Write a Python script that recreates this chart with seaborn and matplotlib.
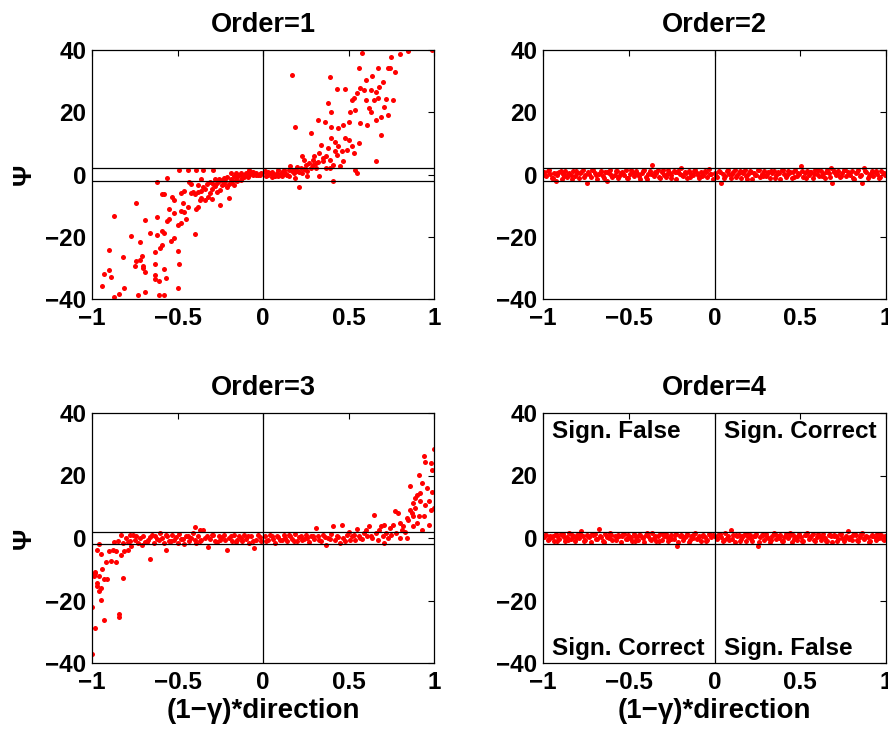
import matplotlib
matplotlib.use("Agg")
import matplotlib.pyplot as plt
import numpy as np
import pandas as pd
import seaborn as sns

# ---------------- data ----------------
titles = ["Order=1", "Order=2", "Order=3", "Order=4"]
xtick_vals = [-1, -0.5, 0, 0.5, 1]
xtick_labels = ["\u22121", "\u22120.5", "0", "0.5", "1"]
ytick_vals = [-40, -20, 0, 20, 40]
ytick_labels = ["\u221240", "\u221220", "0", "20", "40"]
band_lines = [-2, 2]

# Order=1
x1_neg = [-0.94,-0.93,-0.90,-0.90,-0.89,-0.87,-0.87,-0.84,-0.82,-0.81,
 -0.77,-0.75,-0.74,-0.74,-0.73,-0.72,-0.72,-0.71,-0.70,-0.70,
 -0.69,-0.69,-0.69,-0.66,-0.63,-0.63,-0.63,-0.63,-0.62,-0.62,
 -0.62,-0.61,-0.61,-0.60,-0.59,-0.59,-0.59,-0.58,-0.58,-0.58,
 -0.58,-0.57,-0.56,-0.56,-0.55,-0.55,-0.54,-0.53,-0.52,-0.52,
 -0.52,-0.50,-0.50,-0.50,-0.49,-0.49,-0.48,-0.48,-0.48,-0.47,
 -0.46,-0.46,-0.45,-0.44,-0.44,-0.43,-0.42,-0.41,-0.40,-0.40,
 -0.39,-0.39,-0.38,-0.38,-0.38,-0.37,-0.36,-0.36,-0.35,-0.35,
 -0.34,-0.33,-0.32,-0.31,-0.30,-0.29,-0.29,-0.28,-0.27,-0.26,
 -0.25,-0.25,-0.24,-0.23,-0.22,-0.21,-0.20,-0.20,-0.19,-0.18,
 -0.17,-0.17,-0.16,-0.15,-0.14,-0.13,-0.12,-0.11,-0.10,-0.10,
 -0.09,-0.08,-0.07,-0.06,-0.05,-0.03,-0.02,-0.01,
 -0.30,-0.27,-0.24,-0.21,-0.18,-0.15,-0.13,-0.11,-0.08,-0.06,-0.04,-0.34,-0.36,-0.42,-0.31,
 -0.28,-0.26,-0.23,-0.19,-0.16,-0.12,-0.09,-0.07,-0.04,-0.02]
y1_neg = [-35.7,-32.0,-24.3,-30.8,-32.8,-13.2,-39.5,-38.5,-26.5,-36.4,
 -19.7,-29.3,-9.3,-27.7,-38.7,-27.6,-21.8,-26.3,-29.5,-30.2,
 -31.4,-14.5,-37.6,-18.9,-24.9,-28.6,-32.3,-33.7,-13.5,-2.4,
 -19.3,-34.1,-38.7,-23.5,-22.6,-6.2,-18.2,-6.3,-18.7,-38.7,
 -30.4,-33.2,-15.1,-1.0,-11.0,-14.2,-21.4,-7.2,-12.5,-8.1,
 -20.5,-36.6,-24.7,-16.3,-28.9,1.4,-5.8,-15.7,-11.6,-9.0,
 -5.3,-12.1,-14.3,-10.6,1.4,-2.4,-5.9,-5.7,-19.1,-6.3,
 -11.1,1.5,-10.5,-5.5,-3.3,-8.3,-1.4,-7.5,1.4,-3.9,
 -8.1,-3.1,-7.1,-2.4,-8.0,1.4,-3.0,-1.3,-2.8,-2.2,
 -9.9,-5.1,-3.5,-1.2,-2.2,-0.7,-7.7,-3.1,0.4,-1.8,
 -3.3,-0.6,0.6,-2.2,-0.1,0.4,-1.2,-0.4,0.4,0.1,
 0.6,1.3,0.4,-0.1,0.3,-0.1,0.2,0.4,
 -4.5,-5.5,-1.8,-4.0,-2.6,-0.8,-1.9,-0.9,-0.3,0.9,0.0,-4.6,-5.2,-3.0,-6.0,
 -3.8,-1.6,-2.9,-1.4,-1.9,0.0,-0.7,0.9,0.6,-0.2]
x1_pos = [0.01,0.02,0.03,0.04,0.05,0.06,0.07,0.08,0.09,0.10,
 0.11,0.12,0.13,0.14,0.15,0.16,0.17,0.18,0.19,0.19,
 0.20,0.21,0.22,0.23,0.23,0.24,0.25,0.26,0.27,0.28,
 0.28,0.29,0.30,0.31,0.31,0.32,0.33,0.33,0.34,0.35,
 0.35,0.36,0.37,0.37,0.38,0.38,0.39,0.39,0.39,0.40,
 0.40,0.40,0.41,0.41,0.42,0.42,0.43,0.43,0.44,0.44,
 0.45,0.46,0.47,0.47,0.48,0.48,0.49,0.50,0.50,0.51,
 0.52,0.52,0.53,0.53,0.54,0.54,0.55,0.55,0.56,0.56,
 0.57,0.57,0.58,0.59,0.60,0.60,0.61,0.62,0.63,0.63,
 0.64,0.65,0.66,0.66,0.66,0.67,0.67,0.68,0.69,0.69,
 0.70,0.71,0.72,0.73,0.73,0.74,0.75,0.76,0.77,0.80,
 0.85,0.99,
 0.02,0.05,0.09,0.12,0.15,0.18,0.21,0.24,
 0.03,0.06,0.08,0.11,0.14,0.17,0.20,0.26,0.29,0.32]
y1_pos = [1.0,0.4,-0.3,0.6,-0.9,0.2,-0.6,0.6,1.3,-0.1,
 -0.6,1.5,0.4,-0.2,1.3,2.6,32.1,0.4,15.4,-1.0,
 1.0,-3.9,2.0,5.8,0.4,4.7,2.9,-0.6,3.6,2.0,
 13.3,4.7,5.8,2.0,3.6,17.5,6.8,-0.6,9.5,5.2,
 4.2,17.0,5.8,2.0,22.9,8.4,4.7,2.0,31.4,11.7,
 15.4,20.2,-2.2,3.1,7.4,10.6,6.3,27.4,14.8,9.0,
 2.6,7.4,15.9,4.2,11.7,27.4,7.9,17.0,11.1,20.2,
 24.0,9.0,6.8,24.5,1.5,20.7,0.4,26.1,10.1,34.2,
 27.7,16.5,38.9,27.2,24.0,30.4,15.9,21.3,27.0,20.2,
 31.7,24.0,26.6,4.2,17.5,34.1,24.5,28.2,12.7,18.6,
 29.8,21.8,24.2,34.1,19.1,34.1,37.6,24.0,33.0,38.7,
 39.7,40.0,
 -0.5,0.8,-0.4,0.3,-0.5,1.5,0.9,1.8,
 0.9,-0.4,0.2,0.7,0.0,1.1,2.4,1.2,3.0,4.1]

# Order=3
x3_neg = [-1.00,-1.00,-0.99,-0.99,-0.98,-0.98,-0.98,-0.97,-0.97,-0.97,
 -0.96,-0.96,-0.96,-0.95,-0.95,-0.95,-0.94,-0.93,-0.93,-0.92,
 -0.91,-0.90,-0.89,-0.88,-0.87,-0.86,-0.86,-0.85,-0.84,-0.84,
 -0.83,-0.83,-0.82,-0.82,-0.81,-0.80,-0.79,-0.79,-0.78,-0.77,
 -0.76,-0.75,-0.73,-0.72,-0.71,-0.70,-0.68,-0.67,-0.66,-0.65,
 -0.64,-0.63,-0.61,-0.60,-0.59,-0.58,-0.57,-0.56,-0.55,-0.53,
 -0.52,-0.50,-0.49,-0.48,-0.46,-0.45,-0.43,-0.42,-0.41,-0.40,
 -0.39,-0.38,-0.37,-0.36,-0.35,-0.33,-0.32,-0.31,-0.29,-0.27,
 -0.26,-0.25,-0.23,-0.21,-0.20,-0.18,-0.17,-0.15,-0.14,-0.12,
 -0.11,-0.10,-0.08,-0.07,-0.05,-0.04,-0.03,-0.01,
 -0.78,-0.74,-0.69,-0.66,-0.62,-0.57,-0.54,-0.51,-0.47,-0.44,
 -0.40,-0.37,-0.34,-0.30,-0.28,-0.24,-0.22,-0.19,-0.16,-0.13,
 -0.09,-0.06,-0.02]
y3_neg = [-37.1,-22.1,-11.7,-12.3,-11.2,-28.8,-10.9,-3.7,-15.5,-14.4,
 -17.1,-12.3,-1.9,-19.7,-5.0,-16.0,-9.9,-26.3,-13.0,-7.8,
 -13.0,-4.3,-7.5,-3.7,-1.4,-7.8,-4.3,-1.1,-24.2,-25.3,
 -5.5,0.9,-12.8,-1.6,-4.3,0.0,-3.7,-1.4,0.9,-2.7,
 1.1,-0.5,-1.6,0.0,-2.1,0.5,-1.4,-0.5,-6.6,1.1,
 -1.6,0.5,-0.7,1.6,0.0,-1.6,-3.7,0.5,-1.1,0.9,
 -0.5,-1.6,1.4,-0.3,-1.8,0.5,-1.1,0.0,1.6,3.5,
 -1.6,0.7,2.5,-0.5,2.7,0.5,-2.9,-0.3,1.1,-1.4,
 0.5,-0.7,1.1,-3.9,0.0,-1.1,0.9,-0.5,0.5,-1.1,
 1.1,-0.3,-1.6,0.5,-3.2,-0.5,1.1,-1.1,
 -0.8,0.6,-1.2,0.2,-0.4,1.0,-0.9,0.3,-0.2,0.8,
 -0.6,-1.0,0.1,0.9,-0.9,0.2,-0.5,0.6,-1.3,0.0,
 0.7,-0.8,0.3]
x3_pos = [0.01,0.03,0.04,0.06,0.07,0.08,0.10,0.12,0.13,0.14,
 0.16,0.17,0.19,0.20,0.22,0.23,0.25,0.26,0.27,0.29,
 0.30,0.31,0.32,0.34,0.35,0.37,0.38,0.40,0.41,0.42,
 0.43,0.45,0.46,0.47,0.49,0.50,0.51,0.52,0.54,0.55,
 0.56,0.58,0.59,0.60,0.62,0.63,0.64,0.65,0.66,0.67,
 0.68,0.69,0.70,0.71,0.71,0.72,0.73,0.74,0.75,0.76,
 0.77,0.78,0.79,0.80,0.80,0.81,0.82,0.83,0.84,0.84,
 0.85,0.86,0.86,0.87,0.88,0.88,0.88,0.89,0.89,0.90,
 0.90,0.91,0.91,0.92,0.92,0.93,0.93,0.94,0.94,0.95,
 0.95,0.96,0.97,0.97,0.98,0.98,0.99,0.99,1.00,1.00,
 0.02,0.05,0.09,0.11,0.15,0.18,0.21,0.24,0.28,0.33,
 0.36,0.39,0.44,0.48,0.53,0.57,0.61]
y3_pos = [0.5,-0.7,1.1,-0.3,-1.6,0.5,-0.5,1.1,0.0,-1.1,
 0.7,-0.3,1.4,-1.1,0.5,-0.5,1.1,0.0,-1.4,0.7,
 -0.3,3.2,0.5,-1.1,1.1,-2.1,0.0,1.4,3.7,-0.7,
 0.5,-1.6,4.3,0.0,1.1,1.8,-0.5,0.7,-0.7,2.9,
 0.5,-0.3,1.6,2.5,3.7,0.5,0.0,7.5,1.6,-0.7,
 2.7,3.9,0.5,-1.6,4.3,1.6,0.0,3.2,0.9,4.3,
 8.5,1.6,8.0,0.0,4.8,2.7,3.7,1.8,6.4,0.0,
 5.9,9.1,16.5,8.0,3.7,6.9,11.2,12.8,9.6,4.8,
 13.9,20.3,6.9,11.7,14.4,2.7,17.6,6.9,26.3,10.7,
 24.2,16.0,4.3,11.7,9.1,24.0,21.9,14.6,28.5,9.6,
 -0.9,0.8,0.2,-0.6,0.9,-0.8,0.3,-0.2,0.6,-0.7,
 0.4,-0.4,0.2,-0.9,0.9,-0.1,0.8]

# Orders 2 and 4 share the same direction values
xb_neg = [-0.995,-0.983,-0.971,-0.962,-0.948,-0.937,-0.925,-0.918,-0.904,-0.891,
 -0.882,-0.869,-0.858,-0.846,-0.835,-0.826,-0.812,-0.801,-0.790,-0.778,
 -0.768,-0.755,-0.743,-0.734,-0.721,-0.709,-0.698,-0.688,-0.675,-0.662,
 -0.653,-0.641,-0.629,-0.618,-0.607,-0.596,-0.583,-0.571,-0.562,-0.548,
 -0.537,-0.526,-0.514,-0.503,-0.492,-0.479,-0.468,-0.457,-0.445,-0.434,
 -0.423,-0.411,-0.399,-0.388,-0.377,-0.364,-0.353,-0.342,-0.330,-0.319,
 -0.307,-0.296,-0.285,-0.273,-0.262,-0.251,-0.238,-0.227,-0.216,-0.204,
 -0.193,-0.181,-0.170,-0.159,-0.147,-0.136,-0.124,-0.113,-0.101,-0.090,
 -0.078,-0.067,-0.055,-0.044,-0.033,-0.021,-0.010]
xb_pos = [0.004,0.015,0.027,0.038,0.049,0.061,0.072,0.084,0.095,0.106,
 0.118,0.129,0.141,0.152,0.163,0.175,0.186,0.198,0.209,0.221,
 0.232,0.243,0.255,0.266,0.278,0.289,0.300,0.312,0.323,0.335,
 0.346,0.357,0.369,0.380,0.392,0.403,0.414,0.426,0.437,0.449,
 0.460,0.471,0.483,0.494,0.506,0.517,0.528,0.540,0.551,0.563,
 0.574,0.585,0.597,0.608,0.620,0.631,0.642,0.654,0.665,0.677,
 0.688,0.699,0.711,0.722,0.734,0.745,0.756,0.768,0.779,0.791,
 0.802,0.813,0.825,0.836,0.848,0.859,0.870,0.882,0.893,0.905,
 0.916,0.927,0.939,0.950,0.962,0.973,0.984,0.996]
# second interleaved set of directions (between the first ones)
xc_neg = [-0.989,-0.966,-0.943,-0.921,-0.897,-0.875,-0.852,-0.830,-0.806,-0.784,
 -0.761,-0.738,-0.715,-0.693,-0.669,-0.647,-0.624,-0.601,-0.577,-0.555,
 -0.531,-0.509,-0.486,-0.462,-0.440,-0.417,-0.394,-0.371,-0.347,-0.325,
 -0.301,-0.279,-0.256,-0.233,-0.210,-0.187,-0.164,-0.141,-0.118,-0.096,
 -0.072,-0.050,-0.027]
xc_pos = [0.010,0.033,0.055,0.078,0.101,0.124,0.147,0.169,0.192,0.215,
 0.238,0.261,0.283,0.306,0.329,0.352,0.375,0.397,0.420,0.443,
 0.466,0.489,0.511,0.534,0.557,0.580,0.603,0.625,0.648,0.671,
 0.694,0.717,0.739,0.762,0.785,0.808,0.830,0.853,0.876,0.899,
 0.921,0.944,0.967,0.990]

# Order=2
y2_neg = [0.8,-0.4,1.1,0.2,-1.0,0.6,-2.2,-0.2,0.9,-1.3,
 0.3,1.0,-0.7,0.5,-0.1,1.2,-0.5,0.4,-1.1,0.7,
 1.5,-0.3,-2.6,0.1,-0.9,1.3,0.6,-1.4,0.2,1.1,
 -0.6,0.9,-2.2,0.4,1.4,-0.8,0.0,1.0,-1.2,0.5,
 0.7,-0.3,1.6,-1.0,0.3,0.8,-0.5,1.2,0.1,-1.3,
 0.6,1.4,-0.7,0.2,1.0,2.9,-0.4,0.5,1.3,-1.1,
 0.9,0.0,-0.8,1.5,0.4,-0.2,1.1,-1.4,0.7,0.3,
 2.2,-0.6,0.8,-1.0,1.2,0.2,-0.3,1.4,0.5,-1.2,
 0.9,-0.1,1.0,-0.7,1.8,0.3,-1.3]
y2_pos = [0.5,-0.9,1.2,-2.6,0.3,-0.5,1.0,0.1,-1.2,0.7,
 1.3,-0.3,0.4,-1.0,0.9,1.5,-0.6,0.2,1.1,-1.3,
 0.6,0.0,1.4,-0.8,0.3,1.0,-0.4,0.8,-1.1,0.5,
 1.2,-0.2,0.7,-1.4,1.6,0.2,-0.7,1.0,0.4,-1.0,
 0.9,1.3,-0.5,0.1,2.6,-0.9,0.6,1.1,-0.3,0.8,
 -1.2,1.4,0.3,-0.6,1.0,0.2,-1.1,1.5,0.5,2.2,
 -2.6,0.7,-0.2,1.2,-0.9,0.4,1.3,-0.5,0.9,0.0,
 1.1,-1.3,0.6,1.4,-0.4,-2.6,2.2,0.8,-1.0,0.3,
 1.2,-0.6,0.9,0.1,-1.2,1.0,0.5,-0.3]
y2c_neg = [-0.3,1.3,-1.1,0.6,1.0,-0.5,0.2,-1.4,1.1,0.4,
 -0.8,0.9,1.4,-0.2,0.5,-1.2,0.8,0.0,1.2,-0.6,
 0.3,-1.0,1.5,0.6,-0.4,1.0,-1.3,0.2,0.9,-0.7,
 1.3,0.1,-1.1,0.7,1.0,-0.3,0.4,-0.9,1.2,0.0,
 -0.5,0.8,0.3]
y2c_pos = [-0.4,0.9,-1.0,1.3,0.2,-0.7,1.1,0.5,-1.3,0.8,
 0.0,1.4,-0.6,0.3,1.0,-1.1,0.6,1.5,-0.2,0.9,
 -0.8,0.4,1.2,-1.2,0.7,0.1,1.3,-0.5,0.9,-0.9,
 1.1,0.3,-0.4,1.4,0.6,-1.1,0.8,0.0,1.2,-0.6,
 0.5,1.0,-0.8,0.4]

# Order=4
y4_neg = [0.4,1.0,-0.6,0.8,0.2,-1.1,1.3,0.5,-0.3,0.9,
 1.2,-0.8,0.3,1.5,-0.2,0.7,-1.0,1.1,0.0,2.3,
 0.6,-0.5,1.0,0.2,-1.2,0.9,1.4,-0.4,2.9,0.3,
 -0.9,1.2,0.5,-0.1,1.6,-0.7,0.8,0.2,1.1,-1.3,
 0.6,1.3,-0.4,0.9,0.1,-1.0,1.4,0.4,-0.6,1.0,
 0.3,-1.2,1.1,0.7,-0.3,1.5,0.0,-0.9,0.8,1.2,
 -0.5,0.5,1.3,-1.1,0.2,0.9,-0.2,1.4,-2.5,0.6,
 1.0,-0.7,0.4,1.2,-1.3,0.8,0.1,1.5,-0.4,0.7,
 -1.0,1.1,0.3,-0.6,1.4,0.2,0.9]
y4_pos = [0.7,-0.3,1.2,0.4,-1.0,1.5,0.1,-0.6,2.7,0.9,
 -1.2,0.5,1.1,-0.2,0.8,1.4,-0.8,0.3,1.0,-1.1,
 0.6,1.3,-2.5,0.2,0.9,-0.5,1.2,0.0,-1.3,0.7,
 1.6,-0.4,0.5,1.1,-0.9,0.3,1.4,-0.1,0.8,-1.2,
 1.0,0.4,-0.7,1.3,0.2,-1.0,0.9,1.5,-0.3,0.6,
 1.2,-1.1,0.3,0.8,-0.5,1.4,0.1,-0.8,1.0,0.5,
 -1.3,1.1,0.7,-0.2,1.3,0.0,-0.9,0.6,2.3,0.4,
 -0.6,1.2,0.9,-1.1,0.3,1.5,-0.4,0.8,0.2,-1.0,
 1.1,0.5,-0.7,1.3,0.0,0.9,-0.3,0.6]
y4c_neg = [1.1,-0.2,0.6,-0.9,1.3,0.3,-0.6,0.9,0.0,1.2,
 -1.0,0.5,1.4,-0.4,0.8,-1.2,0.2,1.0,-0.7,0.6,
 1.3,-0.3,0.4,-1.1,0.9,0.1,1.5,-0.5,0.7,-0.9,
 1.2,0.3,-0.2,1.0,-1.2,0.5,0.8,-0.6,1.3,0.0,
 0.6,-0.8,1.1]
y4c_pos = [0.2,1.3,-0.7,0.8,-0.2,1.1,-1.0,0.5,1.4,-0.4,
 0.7,-1.2,1.0,0.3,-0.6,1.2,0.0,-0.9,0.9,1.5,
 -0.3,0.6,-1.1,1.1,0.4,-0.5,1.3,0.2,-0.8,1.0,
 0.5,-1.0,1.4,0.1,-0.4,0.9,-0.7,1.2,0.3,-1.2,
 0.8,0.0,1.1,-0.5]

quadrant_texts = ["Sign. False", "Sign. Correct", "Sign. Correct", "Sign. False"]
quadrant_pos = [(-0.95, 34.0), (0.055, 34.0), (-0.95, -35.5), (0.055, -35.5)]

panels = [
    (x1_neg + x1_pos, y1_neg + y1_pos),
    (xb_neg + xb_pos + xc_neg + xc_pos, y2_neg + y2_pos + y2c_neg + y2c_pos),
    (x3_neg + x3_pos, y3_neg + y3_pos),
    (xb_neg + xb_pos + xc_neg + xc_pos, y4_neg + y4_pos + y4c_neg + y4c_pos),
]

# ---------------- figure ----------------
sns.set_style("white")
plt.rcParams["font.family"] = ["Liberation Sans", "DejaVu Sans"]
plt.rcParams["font.weight"] = "bold"
plt.rcParams["axes.titleweight"] = "bold"
plt.rcParams["axes.labelweight"] = "bold"
plt.rcParams["text.color"] = "black"
plt.rcParams["axes.labelcolor"] = "black"
plt.rcParams["xtick.color"] = "black"
plt.rcParams["ytick.color"] = "black"

W, H = 888, 731
fig = plt.figure(figsize=(W / 100, H / 100), dpi=100)
rects = [(92, 50, 434, 299), (543, 50, 886, 299), (92, 413, 434, 663), (543, 413, 886, 663)]

for i, ((l, t, r, b), (xs, ys)) in enumerate(zip(rects, panels)):
    ax = fig.add_axes([l / W, 1 - b / H, (r - l) / W, (b - t) / H])
    df = pd.DataFrame({"x": xs, "y": ys})
    sns.scatterplot(data=df, x="x", y="y", ax=ax, color="red", s=13,
                    linewidth=0, legend=False, zorder=2)
    for yv in band_lines:
        ax.axhline(yv, color="black", lw=0.9, zorder=3)
    ax.axvline(0, color="black", lw=0.9, zorder=3)
    ax.set_xlim(-1, 1)
    ax.set_ylim(-40, 40)
    ax.set_xticks(xtick_vals)
    ax.set_xticklabels(xtick_labels)
    ax.set_yticks(ytick_vals)
    ax.set_yticklabels(ytick_labels)
    ax.tick_params(direction="in", length=4, width=0.8, top=True, right=True,
                   labelsize=17.5, colors="black")
    ax.tick_params(axis="x", pad=6)
    ax.tick_params(axis="y", pad=4)
    for sp in ax.spines.values():
        sp.set_color("black")
        sp.set_linewidth(0.9)
        sp.set_visible(True)
    ax.set_title(titles[i], fontsize=19.5, fontweight="bold", color="black", pad=13)
    ax.set_xlabel("")
    ax.set_ylabel("")
    if i in (0, 2):
        ax.set_ylabel("\u03a8", fontsize=19, fontweight="bold", labelpad=7)
    if i in (2, 3):
        ax.set_xlabel("(1\u2212\u03b3)*direction", fontsize=20, fontweight="bold", labelpad=3)
    if i == 3:
        for txt, (tx, ty) in zip(quadrant_texts, quadrant_pos):
            ax.text(tx, ty, txt, fontsize=17.5, fontweight="bold", ha="left", va="center")

fig.savefig("out.png", dpi=100, facecolor="white")
